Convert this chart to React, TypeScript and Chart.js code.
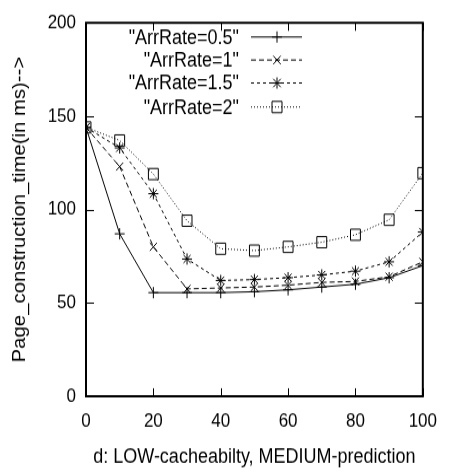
import React, { useEffect, useRef } from "react";
import { Chart, registerables } from "chart.js";

Chart.register(...registerables);

const xValues = [0, 10, 20, 30, 40, 50, 60, 70, 80, 90, 100];
const rate05 = [144, 87, 55.5, 55.5, 55.5, 56, 57, 58.5, 60, 63.5, 70];
const rate1 = [144, 123, 80, 57.5, 58, 58.5, 59.5, 61, 61.5, 64, 72];
const rate15 = [144, 133, 108.5, 73.5, 62, 62.5, 63.5, 65, 67, 72, 88];
const rate2 = [144, 137, 119, 94, 79, 78, 80, 82.5, 86.5, 94.5, 119.5];
const seriesLabels = ['"ArrRate=0.5"', '"ArrRate=1"', '"ArrRate=1.5"', '"ArrRate=2"'];
const xTicks = [0, 20, 40, 60, 80, 100];
const yTicks = [0, 50, 100, 150, 200];

const W = 449;
const H_SCREEN = 473;
const H = 419; // drawing buffer height, stretched vertically to screen height
const SY = H_SCREEN / H;

const FONT = "'Liberation Sans', Arial, Helvetica, sans-serif";
const dashes: number[][] = [[], [5, 3], [3, 3], [1, 2]];
const markers = ["cross", "crossRot", "star", "rect"];
const radii = [5, 5, 5, 7];

function drawMarker(ctx: CanvasRenderingContext2D, kind: string, x: number, y: number) {
  ctx.save();
  ctx.setLineDash([]);
  ctx.beginPath();
  const r = 5;
  if (kind === "cross" || kind === "star") {
    ctx.moveTo(x - r, y); ctx.lineTo(x + r, y);
    ctx.moveTo(x, y - r); ctx.lineTo(x, y + r);
  }
  if (kind === "crossRot" || kind === "star") {
    const d = r * 0.75;
    ctx.moveTo(x - d, y - d); ctx.lineTo(x + d, y + d);
    ctx.moveTo(x - d, y + d); ctx.lineTo(x + d, y - d);
  }
  if (kind === "rect") {
    ctx.rect(x - 5, y - 5, 10, 10);
  }
  ctx.stroke();
  ctx.restore();
}

const framePlugin = {
  id: "gnuFrame",
  afterDraw(chart: any) {
    const { ctx, chartArea } = chart;
    const { left, right, top, bottom } = chartArea;
    const xs = chart.scales.x;
    const ys = chart.scales.y;
    ctx.save();
    ctx.strokeStyle = "#000";
    ctx.lineWidth = 2;
    ctx.setLineDash([]);
    ctx.strokeRect(left, top, right - left, bottom - top);
    ctx.lineWidth = 1;
    ctx.beginPath();
    const tlx = 8;
    const tly = 8 / SY;
    xTicks.forEach((v) => {
      const px = Math.round(xs.getPixelForValue(v)) + 0.5;
      ctx.moveTo(px, bottom); ctx.lineTo(px, bottom - tly);
      ctx.moveTo(px, top); ctx.lineTo(px, top + tly);
    });
    yTicks.forEach((v) => {
      const py = Math.round(ys.getPixelForValue(v)) + 0.5;
      ctx.moveTo(left, py); ctx.lineTo(left + tlx, py);
      ctx.moveTo(right, py); ctx.lineTo(right - tlx, py);
    });
    ctx.stroke();

    // legend
    ctx.font = `18px ${FONT}`;
    ctx.fillStyle = "#000";
    ctx.textAlign = "right";
    ctx.textBaseline = "middle";
    const rowY = [37, 60, 83, 107].map((v) => v / SY);
    seriesLabels.forEach((lab, i) => {
      const y = rowY[i];
      ctx.fillText(lab, 239, y + 1);
      ctx.beginPath();
      ctx.setLineDash(dashes[i]);
      ctx.moveTo(251, y);
      ctx.lineTo(302, y);
      ctx.stroke();
      drawMarker(ctx, markers[i], 277, y);
    });
    ctx.restore();
  },
};

export default function App() {
  const ref = useRef<HTMLCanvasElement | null>(null);
  useEffect(() => {
    if (!ref.current) return;
    const all = [rate05, rate1, rate15, rate2];
    const chart = new Chart(ref.current, {
      type: "line",
      data: {
        labels: xValues,
        datasets: all.map((arr, i) => ({
          label: seriesLabels[i],
          data: arr.map((v, j) => ({ x: xValues[j], y: v })),
          borderColor: "#000",
          backgroundColor: "transparent",
          borderWidth: 1,
          borderDash: dashes[i],
          pointStyle: markers[i] as any,
          pointRadius: radii[i],
          pointBorderColor: "#000",
          pointBackgroundColor: "transparent",
          pointBorderWidth: 1,
          tension: 0,
          fill: false,
        })),
      },
      options: {
        animation: false,
        responsive: false,
        maintainAspectRatio: false,
        devicePixelRatio: 1,
        layout: { padding: { top: Math.round(15 / SY), right: 16, left: 0, bottom: 0 } },
        plugins: { legend: { display: false }, tooltip: { enabled: false } },
        scales: {
          x: {
            type: "linear",
            min: 0,
            max: 100,
            afterFit: (s: any) => { s.height = H - Math.round(396 / SY); },
            afterBuildTicks: (s: any) => { s.ticks = xTicks.map((v) => ({ value: v })); },
            grid: { display: false, drawTicks: false },
            border: { display: false },
            ticks: { color: "#000", font: { family: FONT, size: 17 }, padding: 12, maxRotation: 0 },
            title: {
              display: true,
              text: "d: LOW-cacheabilty, MEDIUM-prediction",
              color: "#000",
              font: { family: FONT, size: 18 },
              padding: { top: 0, bottom: 3 },
            },
          },
          y: {
            type: "linear",
            min: 0,
            max: 200,
            afterFit: (s: any) => { s.width = 86; },
            afterBuildTicks: (s: any) => { s.ticks = yTicks.map((v) => ({ value: v })); },
            grid: { display: false, drawTicks: false },
            border: { display: false },
            ticks: { color: "#000", font: { family: FONT, size: 17 }, padding: 10 },
            title: {
              display: true,
              text: "Page_construction_time(in ms)-->",
              color: "#000",
              font: { family: FONT, size: 18 },
              padding: { top: 9, bottom: 0 },
            },
          },
        },
      },
      plugins: [framePlugin],
    });
    return () => chart.destroy();
  }, []);
  return (
    <div style={{ position: "fixed", left: 0, top: 0, width: W, height: H_SCREEN, background: "#fff", overflow: "hidden" }}>
      <div style={{ width: W, height: H, transform: `scaleY(${SY})`, transformOrigin: "0 0" }}>
        <canvas ref={ref} width={W} height={H} style={{ width: W, height: H, display: "block" }} />
      </div>
    </div>
  );
}
